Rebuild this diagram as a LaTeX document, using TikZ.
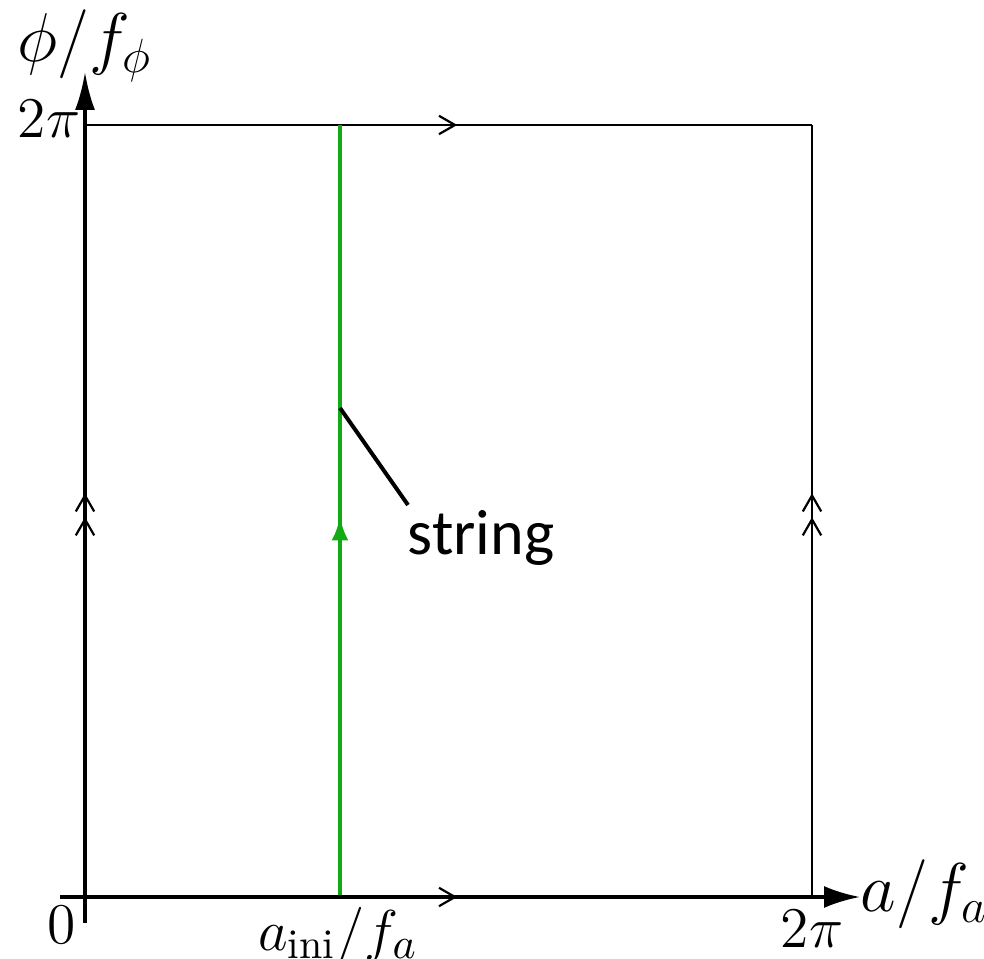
\documentclass[tikz,border=0pt]{standalone}
\usepackage{fontspec}
\newfontfamily\carlito{Carlito}
\usetikzlibrary{arrows.meta,decorations.markings}
\definecolor{strgreen}{RGB}{18,170,18}
\tikzset{
  axis/.style={line width=0.85pt},
  frame/.style={line width=0.6pt},
  barb/.style={postaction={decorate,decoration={markings,
      mark=at position #1 with {\arrow{Straight Barb[length=4pt,width=4.6pt,line width=0.55pt]}}}}},
  dbarb/.style={postaction={decorate,decoration={markings,
      mark=at position 0.492 with {\arrow{Straight Barb[length=4pt,width=4.6pt,line width=0.55pt]}},
      mark=at position 0.523 with {\arrow{Straight Barb[length=4pt,width=4.6pt,line width=0.55pt]}}}}},
  greenarr/.style={postaction={decorate,decoration={markings,
      mark=at position 0.492 with {\arrow{Latex[length=5.8pt,width=4.2pt]}}}}},
  ticklab/.style={inner sep=0pt,font=\fontsize{15}{18}\selectfont},
  axlab/.style={inner sep=0pt,font=\fontsize{16.5}{20}\selectfont},
  strlab/.style={inner sep=0pt,font=\carlito\fontsize{16}{19}\selectfont},
}
\begin{document}
\begin{tikzpicture}[x=0.25pt,y=-0.25pt]
\useasboundingbox (0,0) rectangle (984,959);
% corners
\coordinate (O) at (85,897);
\coordinate (A) at (812,897);
\coordinate (B) at (85,125);
\coordinate (C) at (812,125);
% axes ends
\coordinate (xs) at (60,897);
\coordinate (xe) at (860,897);
\coordinate (ys) at (85,923);
\coordinate (ye) at (85,72);
% string
\coordinate (g0) at (340,897);
\coordinate (g1) at (340,125);
\coordinate (p0) at (340,408);
\coordinate (p1) at (408,505);

% frame with identification arrows
\draw[frame, barb=0.512] (B) -- (C);
\draw[frame, barb=0.512] (O) -- (A);
\draw[frame, dbarb] (A) -- (C);
\draw[frame, dbarb] (O) -- (B);

% green string line
\draw[strgreen, line width=0.9pt, greenarr] (g0) -- (g1);

% axes
\draw[axis, -{Latex[length=9pt,width=5.5pt]}] (xs) -- (xe);
\draw[axis, -{Latex[length=9.5pt,width=5pt]}] (ys) -- (ye);

% pointer
\draw[line width=1pt] (p0) -- (p1);

% labels
\node[strlab, anchor=base west] (str) at (407,555) {string};
\node[axlab, anchor=base] (ylab) at (85,62) {$\phi/f_\phi$};
\node[axlab, anchor=base west] (xlab) at (860,912) {$a/f_a$};
\node[ticklab, anchor=base east] (ytop) at (81,138) {$2\pi$};
\node[ticklab, anchor=base] (zero) at (62,944) {$0$};
\node[ticklab, anchor=base] (aini) at (338,950) {$a_{\mathrm{ini}}/f_a$};
\node[ticklab, anchor=base] (xtop) at (812,947) {$2\pi$};
\end{tikzpicture}
\end{document}
